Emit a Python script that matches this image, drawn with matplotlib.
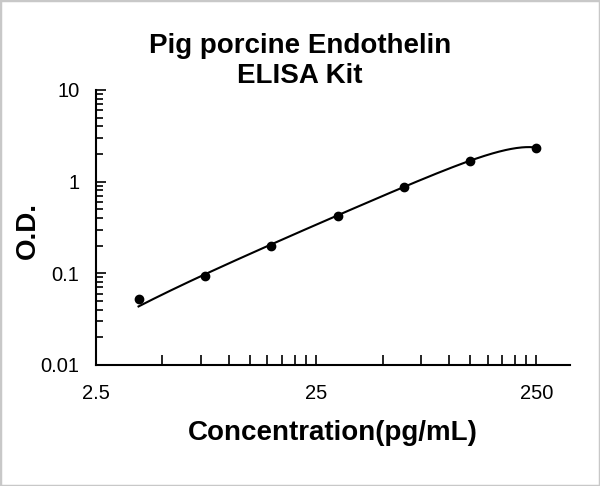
import numpy as np
import matplotlib
matplotlib.use("Agg")
import matplotlib.pyplot as plt
from matplotlib.ticker import FixedLocator, NullFormatter, FixedFormatter

conc = [3.9, 7.8, 15.6, 31.25, 62.5, 125, 250]
od = [0.052, 0.094, 0.20, 0.425, 0.88, 1.69, 2.35]
x_ticks = [2.5, 25, 250]
x_tick_labels = ["2.5", "25", "250"]
y_ticks = [0.01, 0.1, 1, 10]
y_tick_labels = ["0.01", "0.1", "1", "10"]

plt.rcParams['font.family'] = ['Liberation Sans', 'DejaVu Sans']

fig = plt.figure(figsize=(6.0, 4.86), dpi=100)
ax = fig.add_axes([0.16, 0.249, 0.79, 0.566])

# polynomial (order 3) trendline fitted to the standards
xs = np.logspace(np.log10(conc[0]), np.log10(conc[-1]), 300)
coef = np.polyfit(conc, od, 3)
ax.plot(xs, np.clip(np.polyval(coef, xs), 1e-3, None), color='black', lw=1.5, zorder=2)
ax.scatter(conc, od, s=36, color='black', zorder=3)

ax.set_xscale('log')
ax.set_yscale('log')
ax.set_xlim(2.5, 355)
ax.set_ylim(0.01, 10)

ax.xaxis.set_major_locator(FixedLocator(x_ticks))
ax.xaxis.set_major_formatter(FixedFormatter(x_tick_labels))
minor_x = [2.5 * k for k in range(2, 10)] + [25 * k for k in range(2, 10)]
ax.xaxis.set_minor_locator(FixedLocator(minor_x))
ax.xaxis.set_minor_formatter(NullFormatter())

ax.yaxis.set_major_locator(FixedLocator(y_ticks))
ax.yaxis.set_major_formatter(FixedFormatter(y_tick_labels))
minor_y = [d * k for d in [0.01, 0.1, 1] for k in range(2, 10)]
ax.yaxis.set_minor_locator(FixedLocator(minor_y))
ax.yaxis.set_minor_formatter(NullFormatter())

for s in ['top', 'right']:
    ax.spines[s].set_visible(False)
for s in ['left', 'bottom']:
    ax.spines[s].set_linewidth(1.5)

ax.tick_params(axis='x', which='major', direction='in', length=7, width=1.2,
               labelsize=14.5, pad=14, colors='black')
ax.tick_params(axis='x', which='minor', direction='in', length=7, width=1.2)
ax.tick_params(axis='y', which='major', direction='in', length=7, width=1.2,
               labelsize=14.5, pad=12)
ax.tick_params(axis='y', which='minor', direction='in', length=5, width=1.2)

ax.set_xlabel("Concentration(pg/mL)", fontsize=20, fontweight='bold', labelpad=12)
ax.set_ylabel("O.D.", fontsize=20, fontweight='bold', va='center')
ax.yaxis.set_label_coords(-0.143, 0.49)
fig.text(0.5, 0.875, "Pig porcine Endothelin\nELISA Kit", ha='center', va='center',
         fontsize=20, fontweight='bold', linespacing=1.2)

fig.patches.append(plt.Rectangle((0, 0), 1, 1, transform=fig.transFigure,
                                 fill=False, edgecolor='#c8c8c8', lw=2.5))

fig.savefig("out.png", dpi=100)
